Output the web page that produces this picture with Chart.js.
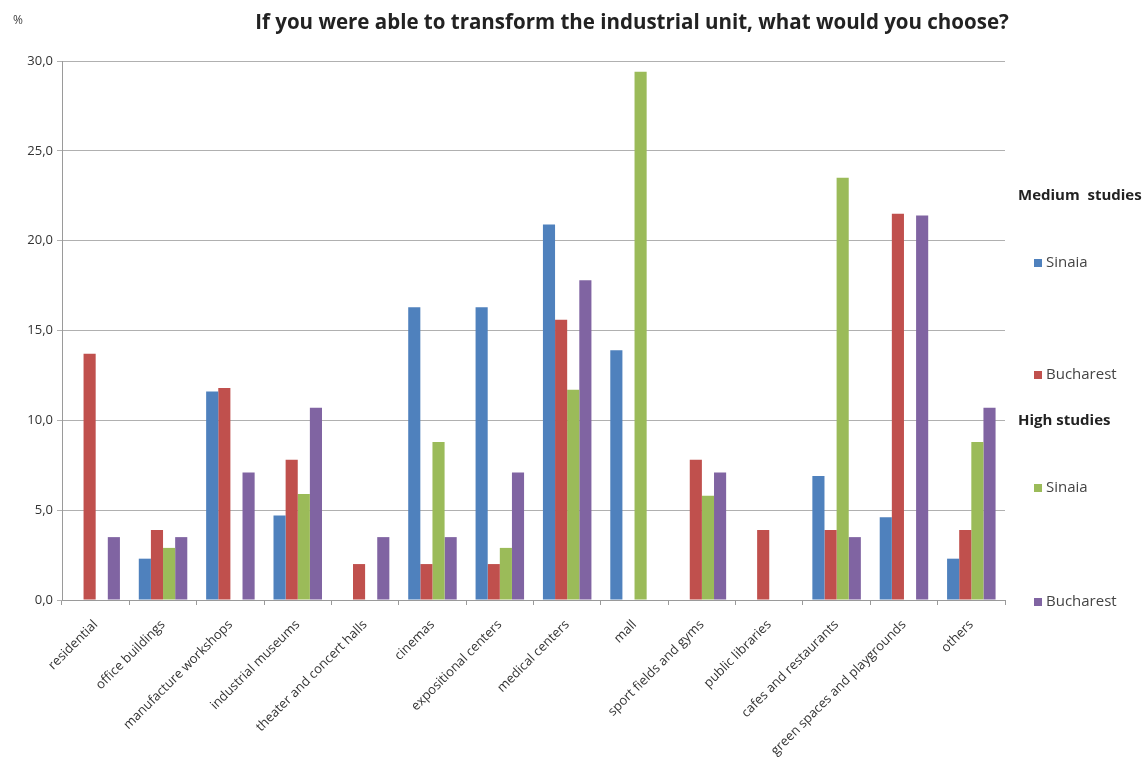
<!DOCTYPE html>
<html>
<head>
<meta charset="utf-8">
<script src="https://cdn.jsdelivr.net/npm/chart.js@4.4.1/dist/chart.umd.min.js"></script>
<style>
  html, body { margin: 0; padding: 0; background: #fff; }
  #wrap { position: relative; width: 1145px; height: 762px; }
</style>
</head>
<body>
<div id="wrap"><canvas id="chart" width="1145" height="762"></canvas></div>
<script>
// Survey answers, % of respondents per option
const categories = [
  'residential', 'office buildings', 'manufacture workshops', 'industrial museums',
  'theater and concert halls', 'cinemas', 'expositional centers', 'medical centers',
  'mall', 'sport fields and gyms', 'public libraries', 'cafes and restaurants',
  'green spaces and playgrounds', 'others'
];

const mediumSinaia    = [0,    2.3, 11.6, 4.7,  0,   16.3, 16.3, 20.9, 13.9, 0,   0,   6.9,  4.6,  2.3];
const mediumBucharest = [13.7, 3.9, 11.8, 7.8,  2.0, 2.0,  2.0,  15.6, 0,    7.8, 3.9, 3.9,  21.5, 3.9];
const highSinaia      = [0,    2.9, 0,    5.9,  0,   8.8,  2.9,  11.7, 29.4, 5.8, 0,   23.5, 0,    8.8];
const highBucharest   = [3.5,  3.5, 7.1,  10.7, 3.5, 3.5,  7.1,  17.8, 0,    7.1, 0,   3.5,  21.4, 10.7];

const yTicks = [0, 5, 10, 15, 20, 25, 30];

const COLORS = ['#4F81BD', '#C0504D', '#9BBB59', '#8064A2'];
const FONT = '"Open Sans", "Liberation Sans", sans-serif';

// Title, unit label and the grouped legend are painted by hand
const decorations = {
  id: 'decorations',
  afterDraw(chart) {
    const ctx = chart.ctx;
    const ds = chart.data.datasets;
    ctx.save();
    ctx.textBaseline = 'middle';

    ctx.fillStyle = '#222';
    ctx.font = 'bold 20.5px ' + FONT;
    ctx.textAlign = 'center';
    ctx.fillText('If you were able to transform the industrial unit, what would you choose?', 632, 23);

    ctx.font = '12px ' + FONT;
    ctx.textAlign = 'left';
    ctx.fillStyle = '#444';
    ctx.fillText('%', 13, 21);

    const groups = [
      { title: 'Medium  studies', y: 196, items: [{ i: 0, y: 263 }, { i: 1, y: 375 }] },
      { title: 'High studies',    y: 421, items: [{ i: 2, y: 488 }, { i: 3, y: 602 }] }
    ];
    groups.forEach(g => {
      ctx.font = 'bold 15px ' + FONT;
      ctx.fillStyle = '#222';
      ctx.fillText(g.title, 1018, g.y);
      g.items.forEach(it => {
        ctx.fillStyle = ds[it.i].backgroundColor;
        ctx.fillRect(1034, it.y - 4, 8, 8);
        ctx.font = '15px ' + FONT;
        ctx.fillStyle = '#444';
        ctx.fillText(ds[it.i].label, 1046, it.y);
      });
    });
    ctx.restore();
  }
};

new Chart(document.getElementById('chart'), {
  type: 'bar',
  data: {
    labels: categories,
    datasets: [
      { label: 'Sinaia',    data: mediumSinaia,    backgroundColor: COLORS[0] },
      { label: 'Bucharest', data: mediumBucharest, backgroundColor: COLORS[1] },
      { label: 'Sinaia',    data: highSinaia,      backgroundColor: COLORS[2] },
      { label: 'Bucharest', data: highBucharest,   backgroundColor: COLORS[3] }
    ]
  },
  options: {
    responsive: false,
    animation: false,
    layout: { padding: { top: 61, right: 140, left: 0, bottom: 0 } },
    datasets: { bar: { categoryPercentage: 0.72, barPercentage: 1.0 } },
    plugins: {
      legend: { display: false },
      title: { display: false },
      tooltip: { enabled: false }
    },
    scales: {
      x: {
        offset: true,
        grid: { offset: true, drawOnChartArea: false, color: '#9a9a9a', tickLength: 5 },
        border: { color: '#9a9a9a' },
        ticks: {
          color: '#333',
          font: { family: FONT, size: 13 },
          minRotation: 45,
          maxRotation: 45,
          autoSkip: false,
          padding: 12
        },
        afterFit(scale) { scale.height = 162; }
      },
      y: {
        min: 0,
        max: 30,
        afterBuildTicks(scale) { scale.ticks = yTicks.map(v => ({ value: v })); },
        grid: { color: '#b0b0b0', tickLength: 5 },
        border: { color: '#9a9a9a' },
        ticks: {
          color: '#333',
          font: { family: FONT, size: 13 },
          padding: 4,
          callback: v => v.toFixed(1).replace('.', ',')
        },
        afterFit(scale) { scale.width = 62; }
      }
    }
  },
  plugins: [decorations]
});
</script>
</body>
</html>
